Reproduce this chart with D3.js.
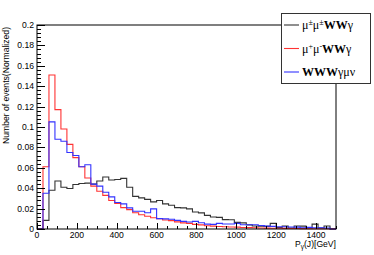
<!DOCTYPE html>
<html>
<head>
<meta charset="UTF-8">
<title>P_gamma(J)</title>
<script src="https://d3js.org/d3.v7.min.js"></script>
<style>
    body { margin: 0; background: #fff; }
    svg { display: block; }
    .tick-label { font-family: "Liberation Sans", Arial, sans-serif; font-size: 8.6px; fill: #000; }
    .axis-title { font-family: "Liberation Sans", Arial, sans-serif; font-size: 8.6px; fill: #000; }
    .leg { font-family: "Liberation Serif", "Times New Roman", serif; font-size: 12px; fill: #000; }
</style>
</head>
<body>
<div id="chart"></div>
<script>
// bins of 30 GeV, 0 - 1500
const binWidth = 30;
const nBins = 50;

// mu+- mu+- WW gamma (black)
const sameSign = [0, 0.0085, 0.038, 0.047, 0.041, 0.0397, 0.0437, 0.0446, 0.045, 0.044,
    0.047, 0.051, 0.048, 0.0486, 0.0496, 0.041, 0.032, 0.0305, 0.029, 0.0266,
    0.028, 0.0246, 0.0233, 0.021, 0.0207, 0.0197, 0.0167, 0.0158, 0.0134, 0.0118,
    0.0114, 0.0092, 0.009, 0.0065, 0.006, 0.004, 0.003, 0.0028, 0.0026, 0.0055,
    0.0015, 0.003, 0.001, 0.003, 0.0028, 0.001, 0.0048, 0.001, 0.003, 0];

// mu+ mu- WW gamma (red)
const oppSign = [0, 0.061, 0.151, 0.117, 0.098, 0.083, 0.070, 0.061, 0.050, 0.042,
    0.037, 0.033, 0.028, 0.025, 0.021, 0.019, 0.016, 0.014, 0.0125, 0.011,
    0.010, 0.0088, 0.0082, 0.007, 0.006, 0.0055, 0.0045, 0.004, 0.0032, 0.0028,
    0.0025, 0.0022, 0.002, 0.0018, 0.0015, 0.0013, 0.0012, 0.001, 0.0009, 0.0008,
    0.0007, 0.0006, 0.0005, 0.0005, 0.0004, 0.0003, 0.0003, 0.0002, 0.0002, 0.0001];

// WWW gamma mu nu (blue)
const wwwSig = [0, 0.035, 0.105, 0.088, 0.086, 0.075, 0.072, 0.061, 0.063, 0.044,
    0.042, 0.036, 0.0315, 0.026, 0.0246, 0.0207, 0.0174, 0.0174, 0.016, 0.0197,
    0.0102, 0.0099, 0.0095, 0.0085, 0.0075, 0.0068, 0.0075, 0.0062, 0.0048, 0.0045,
    0.0055, 0.0049, 0.0049, 0.0055, 0.0042, 0.0042, 0.0042, 0.0035, 0.0028, 0.0026,
    0.0022, 0.0022, 0.002, 0.0018, 0.0012, 0.0016, 0.0012, 0.0012, 0.001, 0];

const xTicks = [0, 200, 400, 600, 800, 1000, 1200, 1400];
const yTicks = [0, 0.02, 0.04, 0.06, 0.08, 0.1, 0.12, 0.14, 0.16, 0.18, 0.2];

const series = [
    { name: "ss", values: sameSign, color: "#333333" },
    { name: "os", values: oppSign, color: "#ff3333" },
    { name: "www", values: wwwSig, color: "#3333ff" }
];

const W = 374, H = 255;
const svg = d3.select("#chart").append("svg").attr("width", W).attr("height", H);

const x = d3.scaleLinear().domain([0, nBins * binWidth]).range([37, 336]);
const y = d3.scaleLinear().domain([0, 0.2]).range([229, 25]);

// histograms
const line = d3.line().x(d => x(d[0])).y(d => y(d[1]));
series.forEach(s => {
    const pts = [[0, 0]];
    s.values.forEach((v, i) => {
        pts.push([i * binWidth, v]);
        pts.push([(i + 1) * binWidth, v]);
    });
    pts.push([nBins * binWidth, 0]);
    svg.append("path")
        .attr("d", line(pts))
        .attr("fill", "none")
        .attr("stroke", s.color)
        .attr("stroke-width", 1.1);
});

// frame
svg.append("rect")
    .attr("x", x(0)).attr("y", y(0.2))
    .attr("width", x(1500) - x(0)).attr("height", y(0) - y(0.2))
    .attr("fill", "none").attr("stroke", "#000").attr("stroke-width", 1);

// y axis ticks (inside, ROOT style)
const yMinor = d3.range(0, 0.2001, 0.004);
svg.append("g").selectAll("line").data(yMinor).enter().append("line")
    .attr("x1", x(0)).attr("x2", (d, i) => x(0) + (i % 5 === 0 ? 8 : 4))
    .attr("y1", d => Math.round(y(d)) + 0.5).attr("y2", d => Math.round(y(d)) + 0.5)
    .attr("stroke", "#000").attr("stroke-width", 1);
svg.append("g").selectAll("text").data(yTicks).enter().append("text")
    .attr("class", "tick-label")
    .attr("x", 34).attr("y", d => y(d) + 3)
    .attr("text-anchor", "end")
    .text(d => d === 0 ? "0" : d3.format("~g")(d));

// x axis ticks
const xMinor = d3.range(0, 1501, 50);
svg.append("g").selectAll("line").data(xMinor).enter().append("line")
    .attr("x1", d => Math.round(x(d)) + 0.5).attr("x2", d => Math.round(x(d)) + 0.5)
    .attr("y1", y(0)).attr("y2", (d, i) => y(0) - (i % 4 === 0 ? 6 : 3))
    .attr("stroke", "#000").attr("stroke-width", 1);
svg.append("g").selectAll("text").data(xTicks).enter().append("text")
    .attr("class", "tick-label")
    .attr("x", d => x(d)).attr("y", 237.5)
    .attr("text-anchor", "middle")
    .text(d => d);

// axis titles
svg.append("text").attr("class", "axis-title")
    .attr("transform", "translate(9,27) rotate(-90)")
    .attr("text-anchor", "end")
    .text("Number of events(Normalized)");

const xt = svg.append("text").attr("class", "axis-title")
    .attr("x", 336).attr("y", 247).attr("text-anchor", "end");
xt.append("tspan").text("P");
xt.append("tspan").attr("dy", 2).attr("font-size", "6.5px").text("γ");
xt.append("tspan").attr("dy", -2).text("(J)[GeV]");

// legend
const leg = svg.append("g");
leg.append("rect")
    .attr("x", 281.5).attr("y", 13.5).attr("width", 89).attr("height", 70)
    .attr("fill", "#fff").attr("stroke", "#333").attr("stroke-width", 1);

const legRows = [25, 48.5, 72];
series.forEach((s, i) => {
    leg.append("line")
        .attr("x1", 284).attr("x2", 299)
        .attr("y1", legRows[i]).attr("y2", legRows[i])
        .attr("stroke", s.color).attr("stroke-width", 1.1);
});

function sup(t, txt) {
    t.append("tspan").attr("dy", -4).attr("font-size", "8px").text(txt);
}

let t = leg.append("text").attr("class", "leg").attr("x", 302).attr("y", legRows[0] + 4);
t.append("tspan").text("μ");
sup(t, "±");
t.append("tspan").attr("dy", 4).text("μ");
sup(t, "±");
t.append("tspan").attr("dy", 4).attr("font-weight", "bold").text("WW");
t.append("tspan").text("γ");

t = leg.append("text").attr("class", "leg").attr("x", 302).attr("y", legRows[1] + 4);
t.append("tspan").text("μ");
sup(t, "+");
t.append("tspan").attr("dy", 4).text("μ");
sup(t, "-");
t.append("tspan").attr("dy", 4).attr("font-weight", "bold").text("WW");
t.append("tspan").text("γ");

t = leg.append("text").attr("class", "leg").attr("x", 302).attr("y", legRows[2] + 4);
t.append("tspan").attr("font-weight", "bold").text("WWW");
t.append("tspan").text("γμν");
</script>
</body>
</html>
